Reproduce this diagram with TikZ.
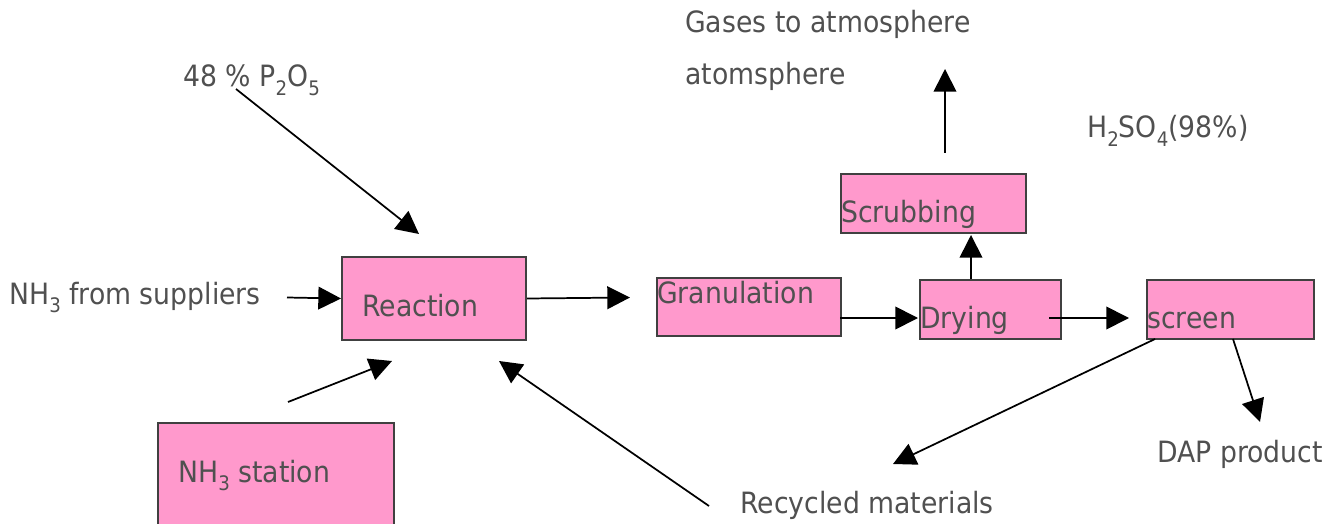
\documentclass[tikz,border=0pt]{standalone}
\usepackage{fontspec}
\setmainfont{DejaVu Sans}[FakeStretch=0.91]
\usetikzlibrary{arrows.meta}
\definecolor{boxfill}{HTML}{FF99CC}
\definecolor{boxline}{HTML}{404040}
\definecolor{txtgray}{HTML}{505050}
\newcommand\sbs[1]{\raisebox{-0.3em}{\fontsize{15}{15}\selectfont #1}}
\begin{document}
\begin{tikzpicture}[x=0.75pt,y=-0.75pt,
  box/.style={draw=boxline, fill=boxfill, line width=1.5pt, anchor=north west, inner sep=0pt},
  txt/.style={text=txtgray, font=\fontsize{22}{26}\selectfont, inner sep=0pt, anchor=base west},
  arr/.style={-{Triangle[length=17pt,width=17pt]}, line width=1.3pt, draw=black}]
\useasboundingbox (0,0) rectangle (1334,524);
\clip (0,0) rectangle (1334,524);
% boxes
\node[box, minimum width=184*0.75pt, minimum height=83*0.75pt] (reac) at (341,256) {};
\node[box, minimum width=236*0.75pt, minimum height=115*0.75pt] (nhst) at (157,422) {};
\node[box, minimum width=184*0.75pt, minimum height=58*0.75pt] (gran) at (656,277) {};
\node[box, minimum width=141*0.75pt, minimum height=59*0.75pt] (dry) at (919,279) {};
\node[box, minimum width=185*0.75pt, minimum height=59*0.75pt] (scrub) at (840,173) {};
\node[box, minimum width=167*0.75pt, minimum height=59*0.75pt] (scr) at (1146,279) {};
% texts
\node[txt] (treac) at (362,316) {Reaction};
\node[txt] (tnhst) at (178,482) {NH\sbs{3} station};
\node[txt] (tgran) at (657,303) {Granulation};
\node[txt] (tdry) at (920,328) {Drying};
\node[txt] (tscrub) at (841,222) {Scrubbing};
\node[txt] (tscr) at (1147,328) {screen};
\node[txt] (p2o5) at (183,87) {48 \% P\sbs{2}O\sbs{5}};
\node[txt] (sup) at (9,304) {NH\sbs{3} from suppliers};
\node[txt] (gas) at (685,33) {Gases to atmosphere};
\node[txt] (atm) at (685,85) {atomsphere};
\node[txt] (acid) at (1087,138) {H\sbs{2}SO\sbs{4}(98\%)};
\node[txt] (dap) at (1157,462) {DAP product};
\node[txt] (rec) at (740,513) {Recycled materials};
% connector ends
\coordinate (p2o5s) at (236,89);
\coordinate (p2o5e) at (419,234);
\coordinate (sups) at (287,297.5);
\coordinate (nhsts) at (288,402);
\coordinate (nhste) at (392,361);
\coordinate (recs) at (709,506);
\coordinate (rece) at (499,361);
\coordinate (reacgran) at (630,297.5);
\coordinate (granout) at (840,318);
\coordinate (dryin) at (918,318);
\coordinate (dryout) at (1049,318);
\coordinate (scrin) at (1129,318);
\coordinate (dryup) at (971,279);
\coordinate (scrubin) at (971,235);
\coordinate (gass) at (945,153);
\coordinate (gase) at (945,69);
\coordinate (recyc) at (1155,339);
\coordinate (recyce) at (893,464);
\coordinate (daps) at (1233,339);
\coordinate (dape) at (1260,422);
% connectors
\draw[arr] (p2o5s) -- (p2o5e);
\draw[arr] (sups) -- (reac.west);
\draw[arr] (nhsts) -- (nhste);
\draw[arr] (recs) -- (rece);
\draw[arr] (reac.east) -- (reacgran);
\draw[arr] (granout) -- (dryin);
\draw[arr] (dryout) -- (scrin);
\draw[arr] (dryup) -- (scrubin);
\draw[arr] (gass) -- (gase);
\draw[arr] (recyc) -- (recyce);
\draw[arr] (daps) -- (dape);
\end{tikzpicture}
\end{document}
